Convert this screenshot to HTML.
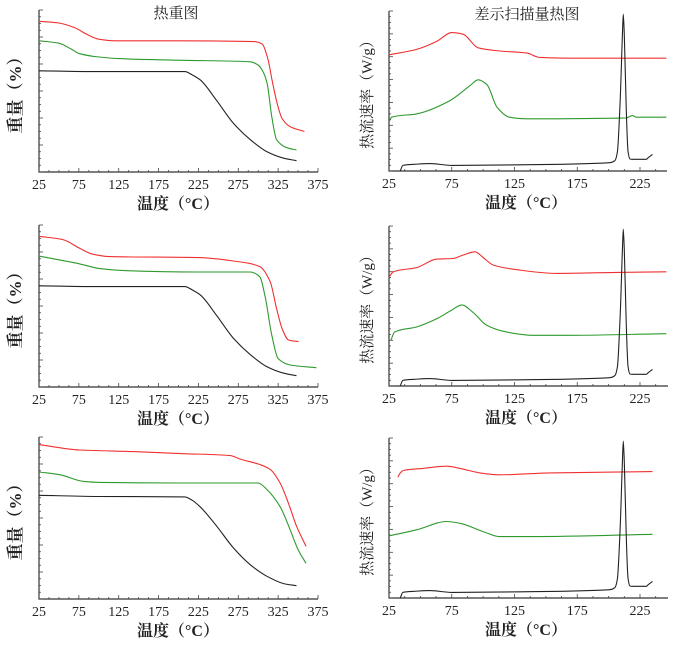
<!DOCTYPE html>
<html><head><meta charset="utf-8">
<style>
html,body{margin:0;padding:0;background:#fff;}
svg{display:block;}
text{font-family:"Liberation Serif","Noto Serif CJK SC",serif;fill:#222;}
</style></head>
<body>
<svg id="chart" width="700" height="649" viewBox="0 0 700 649" xmlns="http://www.w3.org/2000/svg"></svg>
<script>
// ---- TGA data (temperature °C, relative weight 0-100 of axis) ----
const tgaTicks = [25,75,125,175,225,275,325,375];
const dscTicks = [25,75,125,175,225];

const tga1RedT = [25,50,70,85,100,120,200,295,305,312,318,324,330,340,358];
const tga1RedV = [93,92,89,85,82,81,81,80.5,79,70,55,42,33,28,25];
const tga1GreenT = [25,50,65,76,100,125,200,290,300,306,311,317,323,336,348];
const tga1GreenV = [81,79.5,76,73,71,70,69,68,66,62,55,34,20,15,13.6];
const tga1BlackT = [25,100,208,217,227,248,269,290,311,332,348];
const tga1BlackV = [62.5,62,62,60,57,44,30,20,12.5,8.5,7];

const tga2RedT = [25,55,76,93,114,225,269,302,315,323,330,338,350.5];
const tga2RedV = [93,91,85.6,81.9,80.5,79.9,77.8,74.3,65,48.6,36,29,28];
const tga2GreenT = [25,76,102,135,225,290,302,309,317,325,340,373];
const tga2GreenV = [80.8,76,73,71.8,71,71,68,55,32,17.6,13.6,11.9];
const tga2BlackT = [25,100,208,217,227,248,269,290,311,332,348];
const tga2BlackV = [62.5,62,62,60,57,44,30,20,12.5,8.5,7];

const tga3RedT = [25,76,143,206,265,277,302,315,327.5,338,348,360];
const tga3RedV = [95.3,92,91,89.7,88.5,86.4,83,80,71.6,59,45,32.5];
const tga3GreenT = [25,51,81,102,200,300,311,327.5,340,350,360];
const tga3GreenV = [78.4,76.7,72.6,72,71.6,71.6,67.5,57,42.8,30.5,22];
const tga3BlackT = [25,100,208,217,227,248,269,290,311,332,348];
const tga3BlackV = [64,63.3,63,61,57,44.9,31.5,21.2,14,9.5,8.2];

// ---- DSC data ----
const dscBlackT = [34,36,45,57.7,75,130,201,205,207,209,211,211.7,212.5,214,215.5,217,219,230,231.5,235];
const dscBlackV = [0,3.5,4.2,4.6,3.5,3.9,5.2,6.5,12,40,85,98,85,40,12,7.5,7.3,7.3,8.3,10.4];

const dsc1RedT = [25,47,63,75,84,96,113.5,135,145,180,246];
const dsc1RedV = [72.6,76,81,86.5,85.5,77,75,73.7,71,70.5,70.5];
const dsc1GreenT = [25,27,47,73.6,89.5,96,103,111,121,135,214,219,222,246];
const dsc1GreenV = [30.5,33.6,35.7,44,53.3,57,54,40,33.6,32.6,33.2,34.6,33.6,33.6];

const dsc2RedT = [25,28.5,47,63,76,84,93.5,100,108,127,158.6,206,246];
const dsc2RedV = [68,71.4,74,79.3,79.7,81.8,83.9,80.3,75.6,72.7,70.4,71,71.4];
const dsc2GreenT = [26.5,29.5,47,63,74.5,83,92,103,119,140,170,246];
const dsc2GreenV = [28.6,33.7,36.9,42,47.2,50.7,46,37.9,33.7,31.7,31.7,32.7];

const dsc3RedT = [32,34,36.5,52,71,81.6,97.5,113,153,235];
const dsc3RedV = [75.5,78.2,79.7,81,82.4,81,78.2,77,78.2,79];
const dsc3GreenT = [25,47,71,81.6,100,113,140,235];
const dsc3GreenV = [38.8,42.6,47.8,46.7,41.5,38.4,38.4,39.8];

const svg = document.getElementById('chart');
const NS = 'http://www.w3.org/2000/svg';
function mk(tag, attrs, parent){
  const e = document.createElementNS(NS, tag);
  for (const k in attrs) e.setAttribute(k, attrs[k]);
  parent.appendChild(e); return e;
}
// monotone cubic (Fritsch-Carlson) – no overshoot
function smoothPath(pts){
  const n = pts.length;
  const dx = [], dy = [], m = [];
  for (let i = 0; i < n-1; i++) { dx.push(pts[i+1][0]-pts[i][0]); dy.push(pts[i+1][1]-pts[i][1]); m.push(dy[i]/dx[i]); }
  const t = new Array(n);
  t[0] = m[0]; t[n-1] = m[n-2];
  for (let i = 1; i < n-1; i++) {
    if (m[i-1]*m[i] <= 0) t[i] = 0;
    else {
      const w1 = 2*dx[i]+dx[i-1], w2 = dx[i]+2*dx[i-1];
      t[i] = (w1+w2)/(w1/m[i-1]+w2/m[i]);
    }
  }
  let d = 'M' + pts[0][0].toFixed(1) + ',' + pts[0][1].toFixed(1);
  for (let i = 0; i < n-1; i++) {
    const h = dx[i]/3;
    d += ' C' + (pts[i][0]+h).toFixed(1)+','+(pts[i][1]+t[i]*h).toFixed(1)+' '+(pts[i+1][0]-h).toFixed(1)+','+(pts[i+1][1]-t[i+1]*h).toFixed(1)+' '+pts[i+1][0].toFixed(1)+','+pts[i+1][1].toFixed(1);
  }
  return d;
}

function panel(cfg){
  const g = mk('g', {}, svg);
  
  
  const xs = t => cfg.x0 + (t - cfg.tmin) * cfg.pxPerDeg;
  const ys = v => cfg.yb - v / 100 * (cfg.yb - cfg.yt);
  const ax = mk('path', {d:'M'+cfg.x0+','+cfg.yt+' V'+cfg.yb+' H'+cfg.xEnd, stroke:'#333', 'stroke-width':1.2, fill:'none'}, g);
  
  
  const nMaj = cfg.yMajors, nMin = 4;
  for (let i = 0; i <= nMaj * nMin; i++) {
    const y = cfg.yb - i * (cfg.yb - cfg.yt) / (nMaj * nMin);
    const len = (i % nMin === 0) ? 4 : 2;
    mk('line', {x1:cfg.x0, x2:cfg.x0+len, y1:y, y2:y, stroke:'#444', 'stroke-width':0.8}, g);
  }
  for (let t = cfg.tmin; xs(t) <= cfg.xEnd + 0.5; t += 12.5) {
    const maj = ((t - cfg.tmin) % 50) === 0;
    mk('line', {x1:xs(t), x2:xs(t), y1:cfg.yb, y2:cfg.yb-(maj?4:2), stroke:'#444', 'stroke-width':0.8}, g);
  }
  cfg.ticks.forEach(t => {
    const lb = mk('text', {x:xs(t), y:cfg.yb+17, 'text-anchor':'middle', 'font-size':14}, g);
    lb.textContent = t;
    
    
  });
  const xt = mk('text', {x:cfg.xTitleX, y:cfg.yb+37, 'text-anchor':'middle', 'font-size':16, 'font-weight':'bold'}, g);
  xt.textContent = '温度（°C）';
  
  
  const yc = (cfg.yt + cfg.yb) / 2;
  const yt = mk('text', {x:cfg.yTitleX, y:yc, 'text-anchor':'middle', 'font-size':cfg.yTitleSize, 'font-weight':cfg.yTitleBold?'bold':'normal', transform:'rotate(-90 '+cfg.yTitleX+' '+yc+')'}, g);
  yt.textContent = cfg.yTitle;
  
  
  if (cfg.title) {
    const tt = mk('text', {x:cfg.titleX, y:cfg.yt + 8, 'text-anchor':'middle', 'font-size':15}, g);
    tt.textContent = cfg.title;
    
    
  }
  cfg.series.forEach(s => {
    const pts = s.T.map((t, i) => [xs(t), ys(s.V[i])]);
    const p = mk('path', {d:smoothPath(pts), stroke:s.color, 'stroke-width':1.1, fill:'none'}, g);
    
    
  });
}

const tgaPx = 279 / 350, dscPx = 251 / 200;
const rows = [[10,172],[225,387],[437,599]];
const tgaSets = [
  [[tga1RedT,tga1RedV],[tga1GreenT,tga1GreenV],[tga1BlackT,tga1BlackV]],
  [[tga2RedT,tga2RedV],[tga2GreenT,tga2GreenV],[tga2BlackT,tga2BlackV]],
  [[tga3RedT,tga3RedV],[tga3GreenT,tga3GreenV],[tga3BlackT,tga3BlackV]]
];
const dscSets = [
  [[dsc1RedT,dsc1RedV],[dsc1GreenT,dsc1GreenV]],
  [[dsc2RedT,dsc2RedV],[dsc2GreenT,dsc2GreenV]],
  [[dsc3RedT,dsc3RedV],[dsc3GreenT,dsc3GreenV]]
];
const dscEnds = [667,668,668];
rows.forEach((r, i) => {
  const ts = tgaSets[i];
  panel({name:'tga-panel-'+(i+1), x0:39, xEnd:318, tmin:25, pxPerDeg:tgaPx, yt:r[0], yb:r[1],
    yMajors:6, ticks:tgaTicks, xTitleX:178, yTitleX:21, yTitle:'重量（%）', yTitleSize:17, yTitleBold:true,
    title: i===0 ? '热重图' : null, titleX:176,
    series:[{name:'tga-red-line',color:'#f03030',T:ts[0][0],V:ts[0][1]},
            {name:'tga-green-line',color:'#2e9a2e',T:ts[1][0],V:ts[1][1]},
            {name:'tga-black-line',color:'#222',T:ts[2][0],V:ts[2][1]}]});
  const ds = dscSets[i];
  panel({name:'dsc-panel-'+(i+1), x0:389, xEnd:dscEnds[i], tmin:25, pxPerDeg:dscPx, yt:r[0]+1, yb:r[1]-1,
    yMajors:7, ticks:dscTicks, xTitleX:526, yTitleX:372, yTitle:'热流速率（W/g）', yTitleSize:15, yTitleBold:false,
    title: i===0 ? '差示扫描量热图' : null, titleX:527,
    series:[{name:'dsc-red-line',color:'#f03030',T:ds[0][0],V:ds[0][1]},
            {name:'dsc-green-line',color:'#2e9a2e',T:ds[1][0],V:ds[1][1]},
            {name:'dsc-black-line',color:'#222',T:dscBlackT,V:dscBlackV}]});
});
</script>
</body></html>
